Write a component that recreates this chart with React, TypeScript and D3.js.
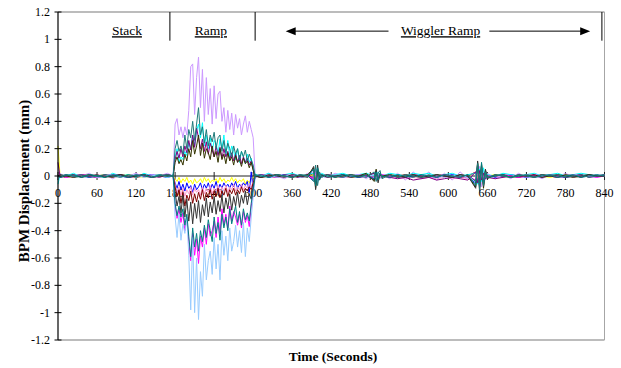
import React from 'react';
import * as d3 from 'd3';

// ---------- data ----------
const timeQuiet1 = [0, 3, 12, 24, 36, 48, 60, 72, 84, 96, 108, 120, 132, 144, 156, 168, 177];
const timeRamp = [180, 183, 186, 189, 192, 195, 198, 201, 204, 207, 210, 213, 216, 219, 222, 225, 228, 231, 234, 237, 240, 243, 246, 249, 252, 255, 258, 261, 264, 267, 270, 273, 276, 279, 282, 285, 288, 291, 294, 297, 300];
const timeQuiet2 = [303, 312, 324, 336, 348, 360, 372, 384, 393, 396, 399, 402, 405, 414, 426, 438, 450, 462, 474, 486, 489, 492, 495, 498, 510, 522, 534, 546, 558, 570, 582, 594, 606, 618, 630, 642, 645, 648, 651, 654, 657, 660, 672, 684, 696, 708, 720, 732, 744, 756, 768, 780, 792, 804, 816, 828, 840];
const times = [...timeQuiet1, ...timeRamp, ...timeQuiet2];

// BPM displacement values, in hundredths of a mm
const lavender = [
  1, 2, -1, 1, 0, 2, -1, 1, -2, 1, 0, 2, -1, 1, 0, 2, 0,
  38, 42, 30, 36, 28, 36, 30, 48, 80, 82, 45, 72, 87, 50, 78, 40, 72, 45, 64, 38, 66, 42, 60, 62, 40, 50, 32, 48, 34, 46, 30, 45, 35, 42, 30, 38, 44, 32, 40, 34, 28,
  1, -1, 2, 0, -2, 1, -1, 2, 3, -6, 5, -2, 1, -1, 2, 0, -1, 1, -2, 2, -3, 3, -2, 1, -2, 2, -3, 3, -2, 3, -3, 2, -3, 3, -2, 3, -5, 7, -8, 4, -3, 2, -2, 1, -2, 2, -1, 1, -2, 1, -1, 2, -1, 1, 0, -1, 1,
];
const tealUpper = [
  0, -1, 1, 0, 1, -1, 0, 1, 0, -1, 1, 0, 1, -1, 0, 1, 0,
  20, 26, 18, 22, 16, 30, 20, 34, 28, 40, 26, 38, 50, 30, 36, 24, 34, 22, 30, 25, 32, 20, 28, 30, 18, 26, 17, 24, 20, 14, 22, 16, 20, 12, 18, 14, 19, 11, 16, 12, 8,
  0, 1, -1, 1, 0, -1, 1, 0, -4, 8, -7, 3, -1, 1, 0, -1, 1, 0, -1, 3, -4, 2, 4, -2, 1, -1, 1, 0, -1, 1, -1, 1, 0, -1, 1, -4, 9, -10, 6, -7, 3, -1, 1, 0, -1, 1, 0, -1, 1, 0, 1, -1, 0, 1, -1, 0, 1,
];
const cyan = [
  -6, 1, 0, 2, -1, 1, 0, -1, 2, 0, 1, -1, 2, 0, 1, -1, 1,
  14, 20, 10, 14, 12, 18, 15, 24, 20, 30, 22, 33, 38, 28, 39, 22, 30, 20, 28, 18, 26, 24, 16, 27, 20, 30, 15, 26, 14, 22, 18, 12, 20, 10, 18, 14, 9, 16, 10, 13, 6,
  1, 0, 2, -1, 1, 2, 0, 1, 2, -5, 6, -3, 2, 0, 1, 2, 0, 1, 2, 0, -2, 3, 1, 0, 2, 1, 0, 2, 1, 2, 0, 1, 2, 0, 1, 2, -6, 5, -4, 6, -2, 1, 0, 2, 1, 0, 1, 2, 0, 1, 2, 0, 1, 2, 1, 0, 1,
];
const olive = [
  0, 1, 0, -1, 0, 1, 0, 0, -1, 1, 0, 0, 1, -1, 0, 0, 0,
  10, 14, 9, 12, 8, 16, 11, 20, 14, 26, 16, 22, 30, 15, 24, 13, 20, 17, 12, 22, 14, 18, 10, 20, 12, 16, 9, 17, 11, 14, 8, 15, 10, 12, 7, 13, 9, 11, 6, 10, 4,
  0, -1, 0, 1, 0, -1, 0, 1, 6, -9, 4, -1, 0, 1, -1, 0, 1, 0, 2, -4, 5, -3, 1, 0, 1, -1, 0, 1, -1, 0, 1, 0, -1, 1, 0, -8, 10, -6, 8, -9, 4, -1, 0, 1, -1, 0, 0, 1, -1, 0, 1, 0, -1, 0, 1, 0, 0,
];
const purple = [
  10, 0, 1, -1, 1, 0, -1, 1, 0, 1, -1, 0, 1, 0, -1, 1, 0,
  12, 18, 13, 20, 14, 22, 17, 26, 19, 30, 21, 35, 28, 20, 27, 18, 25, 16, 24, 19, 14, 22, 15, 21, 13, 20, 14, 18, 12, 17, 11, 16, 10, 15, 9, 14, 10, 13, 8, 11, 5,
  -1, 1, 0, -1, 1, 0, -1, 1, -2, 4, -3, 2, -1, 1, 0, -1, 1, -1, 0, 2, -2, 1, -1, 0, -1, -2, -1, -3, -2, -1, -3, -2, -1, -2, -3, 3, -5, 4, -3, 2, -2, -1, -2, -1, 0, -1, 1, 0, -1, 1, 0, -1, 0, 1, -1, 0, 1,
];
const yellow = [
  22, 1, 0, -1, 1, 0, 0, 1, -1, 0, 1, 0, -1, 0, 1, 0, 0,
  -2, -4, -1, -5, -2, -4, -1, -5, -3, -6, -2, -5, -4, -2, -5, -1, -4, -2, -5, -3, -4, -2, -5, -1, -4, -2, -5, -3, -4, -1, -4, -2, -5, -3, -4, -2, -6, -3, -5, -2, -1,
  0, 1, 0, -1, 0, 1, 0, 0, 1, -2, 2, -1, 0, 0, 1, 0, -1, 0, 1, 1, -1, 1, 0, 0, 1, 0, -1, 0, 1, 0, 0, 1, 0, -1, 0, 2, -3, 3, -2, 2, -1, 0, 1, 0, -1, 0, 1, 0, 0, -1, 0, 1, 0, 0, 1, 0, 0,
];
const blue = [
  0, -1, 0, 1, 0, -1, 0, 0, 1, 0, -1, 0, 0, 1, 0, -1, 0,
  -5, -9, -4, -10, -6, -11, -5, -9, -7, -12, -6, -10, -8, -5, -10, -6, -9, -5, -10, -6, -9, -4, -10, -6, -9, -5, -8, -6, -9, -5, -8, -4, -9, -6, -8, -5, -7, -4, -12, 3, -10,
  0, 1, -1, 0, 1, 0, -1, 0, -3, 5, -4, 2, 0, -1, 0, 1, 0, -1, 0, -2, 3, -2, 1, 0, 0, 1, -1, 0, 1, 0, -1, 0, 1, 0, -1, -5, 7, -8, 5, -4, 2, 0, -1, 0, 1, 0, -1, 0, 0, 1, 0, -1, 0, 0, 1, 0, 0,
];
const darkRed = [
  0, 0, -1, 0, 1, 0, -1, 0, 0, 1, 0, -1, 0, 0, 1, 0, 0,
  -8, -15, -10, -20, -12, -22, -14, -18, -11, -20, -13, -19, -12, -17, -10, -18, -12, -16, -10, -17, -11, -15, -9, -16, -11, -14, -9, -15, -10, -13, -9, -14, -10, -13, -8, -12, -9, -11, -8, -10, -5,
  0, -1, 0, 1, 0, 0, -1, 0, 2, -3, 3, -1, 0, 0, 1, 0, -1, 0, 0, 2, -2, 1, 0, 0, -1, 0, 1, 0, -1, 0, 0, 1, 0, -1, 0, 3, -4, 5, -3, 3, -1, 0, 0, 1, 0, -1, 0, 0, 1, 0, -1, 0, 0, 1, 0, 0, 0,
];
const pink = [
  0, 1, 0, -1, 0, 0, 1, 0, -1, 0, 0, 1, 0, -1, 0, 0, 0,
  -6, -12, -8, -14, -9, -15, -10, -13, -8, -14, -9, -12, -10, -14, -8, -13, -9, -12, -7, -13, -9, -11, -7, -12, -8, -11, -7, -12, -8, -10, -6, -11, -8, -10, -6, -10, -7, -9, -6, -8, -4,
  -1, 0, 1, 0, -1, 0, 1, 0, -2, 3, -2, 1, 0, -1, 0, 0, 1, 0, -1, 1, -2, 2, 0, -1, 0, -1, -2, -1, -2, -1, -2, -1, -2, -1, -2, -3, 4, -4, 3, -2, 1, -1, 0, -1, 0, 1, 0, -1, 0, 0, 1, 0, -1, 0, 0, 1, 0,
];
const darkGray = [
  1, -1, 0, 1, -1, 0, 1, -1, 0, 1, -1, 0, 1, -1, 0, 1, 0,
  -12, -22, -15, -27, -14, -30, -17, -33, -19, -35, -20, -31, -18, -34, -21, -29, -16, -30, -19, -27, -15, -28, -18, -26, -14, -27, -16, -24, -13, -25, -15, -22, -12, -23, -14, -20, -11, -21, -13, -17, -8,
  0, -1, 1, 0, -1, 1, 0, -1, 7, -10, 8, -3, 1, -1, 0, 1, -1, 0, 1, -3, 4, -5, 2, -1, 1, 0, -1, 1, 0, -1, 1, 0, -1, 1, 0, -9, 11, -12, 9, -8, 5, -2, 1, 0, -1, 1, 0, -1, 1, 0, -1, 1, 0, -1, 1, 0, 0,
];
const magenta = [
  0, 1, -1, 0, 1, 0, -1, 0, 1, 0, -1, 1, 0, -1, 0, 1, 0,
  -22, -31, -24, -34, -27, -40, -30, -48, -62, -42, -58, -46, -64, -44, -52, -38, -50, -35, -44, -40, -33, -45, -30, -42, -24, -36, -28, -38, -22, -33, -26, -30, -36, -28, -38, -26, -34, -29, -37, -22, -12,
  0, 1, 0, -1, 0, 1, 0, 0, -2, 3, -2, 1, 0, 1, 0, -1, 0, 1, 0, -1, 2, -1, 0, 1, 0, -1, 0, 1, 0, -1, 0, 1, 0, -1, 0, -3, 4, -5, 3, -2, 1, 0, 0, 1, 0, -1, 0, 1, 0, 0, -1, 0, 1, 0, 0, -1, 0,
];
const tealLower = [
  0, -1, 1, 0, -1, 1, 0, -1, 1, 0, -1, 1, 0, -1, 1, 0, 0,
  -20, -29, -22, -30, -24, -36, -28, -44, -59, -38, -52, -42, -55, -40, -48, -36, -45, -32, -40, -48, -30, -42, -34, -47, -28, -38, -30, -40, -24, -35, -28, -22, -34, -26, -36, -24, -32, -27, -33, -20, -10,
  1, 0, -1, 1, 0, -1, 1, 0, 5, -7, 6, -2, 1, 0, -1, 1, 0, -1, 1, -2, 3, -3, 2, 0, -1, 1, 0, -1, 1, 0, -1, 1, 0, -1, 1, -7, 9, -8, 10, -6, 3, -1, 0, 1, -1, 0, 1, -1, 0, 1, -1, 0, 1, -1, 0, 1, 0,
];
const lightBlue = [
  -2, 0, 1, -1, 0, 1, -1, 0, 1, -1, 0, 1, -1, 0, 1, -1, 0,
  -30, -45, -28, -47, -35, -42, -30, -58, -98, -45, -100, -60, -105, -70, -88, -50, -76, -62, -55, -72, -45, -68, -50, -76, -40, -58, -44, -62, -38, -55, -48, -36, -52, -40, -56, -34, -59, -38, -48, -30, -15,
  -1, 0, 1, -1, 0, 1, -1, 0, -4, 6, -5, 2, -1, 0, 1, -1, 0, 1, -1, 1, -2, 2, -1, 0, 1, -1, 0, 1, -1, 0, 1, -1, 0, 1, -1, -4, 6, -7, 5, -5, 2, -1, 0, 1, -1, 0, 1, -1, 0, 1, -1, 0, 1, -1, 0, 1, 0,
];

// drawn in this order (first = bottom)
const seriesValues = [yellow, blue, pink, darkRed, lavender, cyan, purple, magenta, lightBlue, olive, darkGray, tealLower, tealUpper];
const seriesColors = ['#ffff00', '#0000ff', '#ff99cc', '#800000', '#cc99ff', '#00ffff', '#800080', '#ff00ff', '#99ccff', '#333300', '#333333', '#008080', '#1f7a7a'];

const xTicks = [0, 60, 120, 180, 240, 300, 360, 420, 480, 540, 600, 660, 720, 780, 840];
const yTicks = [1.2, 1, 0.8, 0.6, 0.4, 0.2, 0, -0.2, -0.4, -0.6, -0.8, -1, -1.2];
const yTickLabels = ['1.2', '1', '0.8', '0.6', '0.4', '0.2', '0', '-0.2', '-0.4', '-0.6', '-0.8', '-1', '-1.2'];

// annotations (time in seconds, height in mm)
const phaseMarkers = [172, 303, 836];
const phaseLabels = ['Stack', 'Ramp', 'Wiggler Ramp'];
const phaseLabelTimes = [106, 235, 588];
const arrowSpans = [[508, 350], [663, 818]];

const W = 621;
const H = 368;
const FONT = "'Liberation Serif', 'Times New Roman', Times, serif";
const tf = { fontFamily: FONT };

export default function App() {
  const x = d3.scaleLinear().domain([0, 840]).range([58, 604.5]);
  const y = d3.scaleLinear().domain([-1.2, 1.2]).range([340, 12]);

  const line = d3
    .line<[number, number]>()
    .x((d) => x(d[0]))
    .y((d) => y(d[1]));

  const paths = seriesValues.map((vals) => {
    const n = Math.min(vals.length, times.length);
    const pts: [number, number][] = [];
    for (let i = 0; i < n; i++) pts.push([times[i], vals[i] / 100]);
    return line(pts) || '';
  });

  const arrowY = y(1.06);
  const markerTop = y(1.2);
  const markerBottom = y(0.99);
  const labelY = y(1.03);

  return (
    <svg width={W} height={H} style={{ position: 'absolute', left: 0, top: 0, background: '#fff', fontFamily: FONT }}>
      <rect x={0} y={0} width={W} height={H} fill="#fff" />
      {/* plot border */}
      <line x1={x(0)} x2={x(840)} y1={y(1.2)} y2={y(1.2)} stroke="#a6a6a6" strokeWidth={1.5} />
      <line x1={x(0)} x2={x(840)} y1={y(-1.2)} y2={y(-1.2)} stroke="#a6a6a6" strokeWidth={1.5} />
      <line x1={x(840)} x2={x(840)} y1={y(1.2)} y2={y(-1.2)} stroke="#a6a6a6" strokeWidth={1} />

      {/* x tick labels */}
      {xTicks.map((t) => (
        <text key={'xl' + t} x={x(t)} y={y(0) + 21} fontSize={12} textAnchor="middle" fill="#000" style={tf}>
          {t}
        </text>
      ))}

      {/* x axis line at zero */}
      <line x1={x(0)} x2={x(840)} y1={y(0)} y2={y(0)} stroke="#222" strokeWidth={1} />
      {xTicks.map((t) => (
        <line key={'xt' + t} x1={x(t)} x2={x(t)} y1={y(0) - 4} y2={y(0) + 4} stroke="#222" strokeWidth={1} />
      ))}

      {/* series */}
      {paths.map((p, i) => (
        <path key={'s' + i} d={p} fill="none" stroke={seriesColors[i]} strokeWidth={1} strokeLinejoin="round" />
      ))}

      {/* y axis */}
      <line x1={x(0)} x2={x(0)} y1={y(1.2)} y2={y(-1.2)} stroke="#000" strokeWidth={1.2} />
      {yTicks.map((v, i) => (
        <g key={'yt' + i}>
          <line x1={x(0) - 3.5} x2={x(0) + 3.5} y1={y(v)} y2={y(v)} stroke="#000" strokeWidth={1} />
          <text x={50} y={y(v) + 4} fontSize={12} textAnchor="end" fill="#000" style={tf}>
            {yTickLabels[i]}
          </text>
        </g>
      ))}

      {/* phase markers */}
      {phaseMarkers.map((t) => (
        <line key={'pm' + t} x1={x(t)} x2={x(t)} y1={markerTop} y2={markerBottom} stroke="#000" strokeWidth={1} />
      ))}
      {phaseLabels.map((lab, i) => (
        <text key={'pl' + i} x={x(phaseLabelTimes[i])} y={labelY} fontSize={13.5} textAnchor="middle" fill="#000" textDecoration="underline" style={tf}>
          {lab}
        </text>
      ))}
      {arrowSpans.map(([from, to], i) => {
        const x0 = x(from);
        const x1 = x(to);
        const dir = x1 > x0 ? 1 : -1;
        return (
          <g key={'ar' + i}>
            <line x1={x0} x2={x1 - dir * 7} y1={arrowY} y2={arrowY} stroke="#000" strokeWidth={1} />
            <polygon
              points={`${x1},${arrowY} ${x1 - dir * 10},${arrowY - 4} ${x1 - dir * 10},${arrowY + 4}`}
              fill="#000"
            />
          </g>
        );
      })}

      {/* axis titles */}
      <text
        transform={`translate(29, 181) rotate(-90)`}
        fontSize={15}
        fontWeight="bold"
        textAnchor="middle"
        fill="#000"
        style={tf}
      >
        BPM Displacement (mm)
      </text>
      <text x={333} y={361} fontSize={13.5} fontWeight="bold" textAnchor="middle" fill="#000" style={tf}>
        Time (Seconds)
      </text>
    </svg>
  );
}
